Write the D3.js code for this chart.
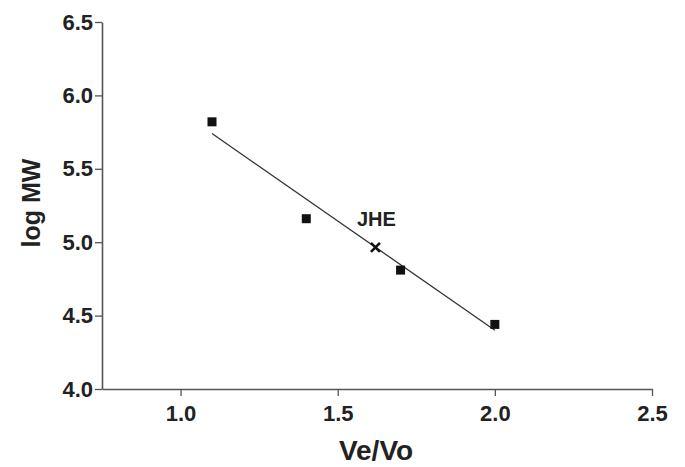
<!DOCTYPE html>
<html>
<head>
<meta charset="utf-8">
<script src="https://cdn.jsdelivr.net/npm/d3@7"></script>
<style>
  html, body { margin: 0; padding: 0; background: #fff; }
  svg { display: block; font-family: "Liberation Sans", Arial, Helvetica, sans-serif; }
</style>
</head>
<body>
<svg id="chart" width="685" height="467"></svg>
<script>
// ---- data ----
const standardsVeVo = [1.10, 1.40, 1.70, 2.00];
const standardsLogMW = [5.82, 5.16, 4.81, 4.44];
const fitVeVo = [1.10, 2.00];
const fitLogMW = [5.74, 4.40];
const sampleLabel = "JHE";
const sampleVeVo = [1.62];
const sampleLogMW = [4.965];
const xTicks = [1.0, 1.5, 2.0, 2.5];
const yTicks = [4.0, 4.5, 5.0, 5.5, 6.0, 6.5];
const xTitle = "Ve/Vo";
const yTitle = "log MW";

// ---- chart ----
const svg = d3.select("#chart");
const x = d3.scaleLinear().domain([0.75, 2.5]).range([102, 652]);
const y = d3.scaleLinear().domain([4.0, 6.5]).range([389, 22]);

const ink = "#222";
const axisCol = "#555";

const yAxis = svg.append("g")
  .attr("transform", `translate(${x(0.75)},0)`)
  .call(d3.axisLeft(y).tickValues(yTicks).tickFormat(d3.format(".1f"))
    .tickSize(7).tickSizeOuter(0).tickPadding(2));
const xAxis = svg.append("g")
  .attr("transform", `translate(0,${y(4.0)})`)
  .call(d3.axisBottom(x).tickValues(xTicks).tickFormat(d3.format(".1f"))
    .tickSize(7).tickSizeOuter(0).tickPadding(9));

[yAxis, xAxis].forEach(g => {
  g.select(".domain").attr("stroke", axisCol).attr("stroke-width", 1.6);
  g.selectAll(".tick line").attr("stroke", axisCol).attr("stroke-width", 1.3);
  g.selectAll(".tick text")
    .attr("fill", ink)
    .style("font-size", "22px")
    .style("font-weight", "bold")
    .style("font-family", "'Liberation Sans', Arial, sans-serif");
});

// fit line
svg.append("line")
  .attr("x1", x(fitVeVo[0])).attr("y1", y(fitLogMW[0]))
  .attr("x2", x(fitVeVo[1])).attr("y2", y(fitLogMW[1]))
  .attr("stroke", "#333").attr("stroke-width", 1.3);

// standards: squares
const sq = 9;
svg.selectAll("rect.pt")
  .data(standardsVeVo.map((v, i) => [v, standardsLogMW[i]]))
  .join("rect")
  .attr("class", "pt")
  .attr("x", d => x(d[0]) - sq / 2)
  .attr("y", d => y(d[1]) - sq / 2)
  .attr("width", sq).attr("height", sq)
  .attr("fill", "#111");

// sample: x marker
const xs = 4.5;
svg.selectAll("path.samp")
  .data(sampleVeVo.map((v, i) => [v, sampleLogMW[i]]))
  .join("path")
  .attr("class", "samp")
  .attr("d", d => {
    const cx = x(d[0]), cy = y(d[1]);
    return `M${cx - xs},${cy - xs}L${cx + xs},${cy + xs}M${cx + xs},${cy - xs}L${cx - xs},${cy + xs}`;
  })
  .attr("stroke", "#111").attr("stroke-width", 2.6).attr("fill", "none");

svg.append("text")
  .attr("x", x(sampleVeVo[0]) + 1)
  .attr("y", y(sampleLogMW[0]) - 21)
  .attr("text-anchor", "middle")
  .attr("fill", ink)
  .style("font-size", "20px")
  .style("font-weight", "bold")
  .text(sampleLabel);

// axis titles
svg.append("text")
  .attr("x", 376).attr("y", 460)
  .attr("text-anchor", "middle")
  .attr("fill", ink)
  .style("font-size", "28px")
  .style("font-weight", "bold")
  .text(xTitle);

svg.append("text")
  .attr("transform", "translate(40,203) rotate(-90)")
  .attr("text-anchor", "middle")
  .attr("fill", ink)
  .style("font-size", "25px")
  .style("font-weight", "bold")
  .text(yTitle);
</script>
</body>
</html>
